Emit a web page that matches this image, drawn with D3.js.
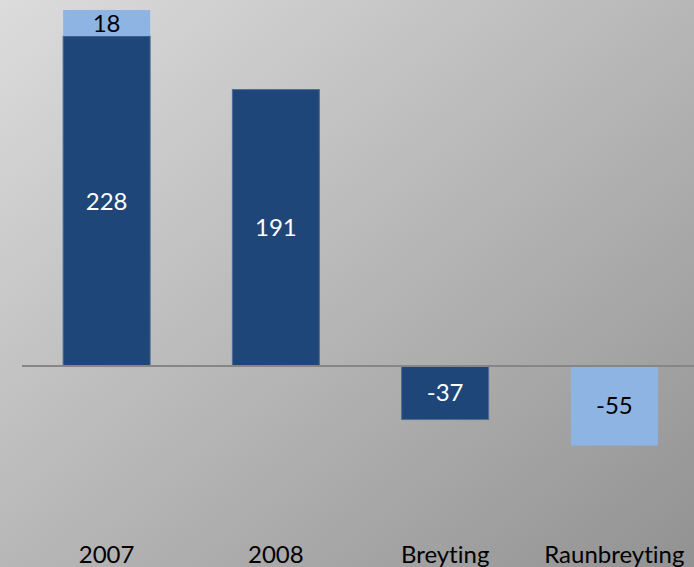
<!DOCTYPE html>
<html>
<head>
<meta charset="utf-8">
<script src="https://cdn.jsdelivr.net/npm/d3@7"></script>
<style>
  body { margin: 0; }
  #chart { width: 694px; height: 567px; }
  text { font-family: Lato, "Open Sans", sans-serif; font-variant-ligatures: none; font-feature-settings: "liga" 0; }
</style>
</head>
<body>
<div id="chart"></div>
<script>
const categories = ["2007", "2008", "Breyting", "Raunbreyting"];
const darkValues = [228, 191, -37, 0];
const lightValues = [18, 0, 0, -55];

const width = 694;
const height = 567;

const svg = d3.select("#chart")
    .append("svg")
    .attr("width", width)
    .attr("height", height);

// background gradient
const grad = svg.append("defs").append("linearGradient")
    .attr("id", "bg")
    .attr("x1", "0").attr("y1", "0")
    .attr("x2", "1").attr("y2", "1");
grad.append("stop").attr("offset", "0%").attr("stop-color", "#dcdcdc");
grad.append("stop").attr("offset", "100%").attr("stop-color", "#929292");

svg.append("rect")
    .attr("width", width)
    .attr("height", height)
    .attr("fill", "url(#bg)");

const rows = categories.map(function(c, i) {
    return {cat: c, dark: darkValues[i], light: lightValues[i]};
});

const series = d3.stack()
    .keys(["dark", "light"])
    .offset(d3.stackOffsetDiverging)(rows);

const xScale = d3.scaleBand()
    .domain(categories)
    .range([22, 699])
    .paddingInner(0.486)
    .paddingOuter(0.243);

const yScale = d3.scaleLinear()
    .domain([0, 246])
    .range([366, 10]);

const colors = {dark: "#1f4679", light: "#8eb4e3"};
const textColors = {dark: "#ffffff", light: "#000000"};

// bars
series.forEach(function(s) {
    const g = svg.append("g");
    const segs = s.filter(function(d) { return d[1] - d[0] !== 0; });

    g.selectAll("rect")
        .data(segs)
        .enter()
        .append("rect")
            .attr("x", function(d) { return xScale(d.data.cat); })
            .attr("width", xScale.bandwidth())
            .attr("y", function(d) { return yScale(d[1]); })
            .attr("height", function(d) { return yScale(d[0]) - yScale(d[1]); })
            .attr("fill", colors[s.key])
            .attr("stroke", s.key === "dark" ? "#4f6c92" : "none")
            .attr("stroke-width", 1);

    g.selectAll("text")
        .data(segs)
        .enter()
        .append("text")
            .attr("x", function(d) { return xScale(d.data.cat) + xScale.bandwidth() / 2; })
            .attr("y", function(d) { return (yScale(d[0]) + yScale(d[1])) / 2; })
            .attr("dy", "0.36em")
            .attr("text-anchor", "middle")
            .attr("font-size", 24)
            .attr("fill", textColors[s.key])
            .text(function(d) { return d.data[s.key]; });
});

// zero line
svg.append("line")
    .attr("x1", 22)
    .attr("x2", width)
    .attr("y1", yScale(0))
    .attr("y2", yScale(0))
    .attr("stroke", "#868686")
    .attr("stroke-width", 2);

// category labels
svg.append("g")
    .selectAll("text")
    .data(categories)
    .enter()
    .append("text")
        .attr("x", function(d) { return xScale(d) + xScale.bandwidth() / 2; })
        .attr("y", 563)
        .attr("text-anchor", "middle")
        .attr("font-size", 24)
        .attr("fill", "#000")
        .text(function(d) { return d; });
</script>
</body>
</html>
